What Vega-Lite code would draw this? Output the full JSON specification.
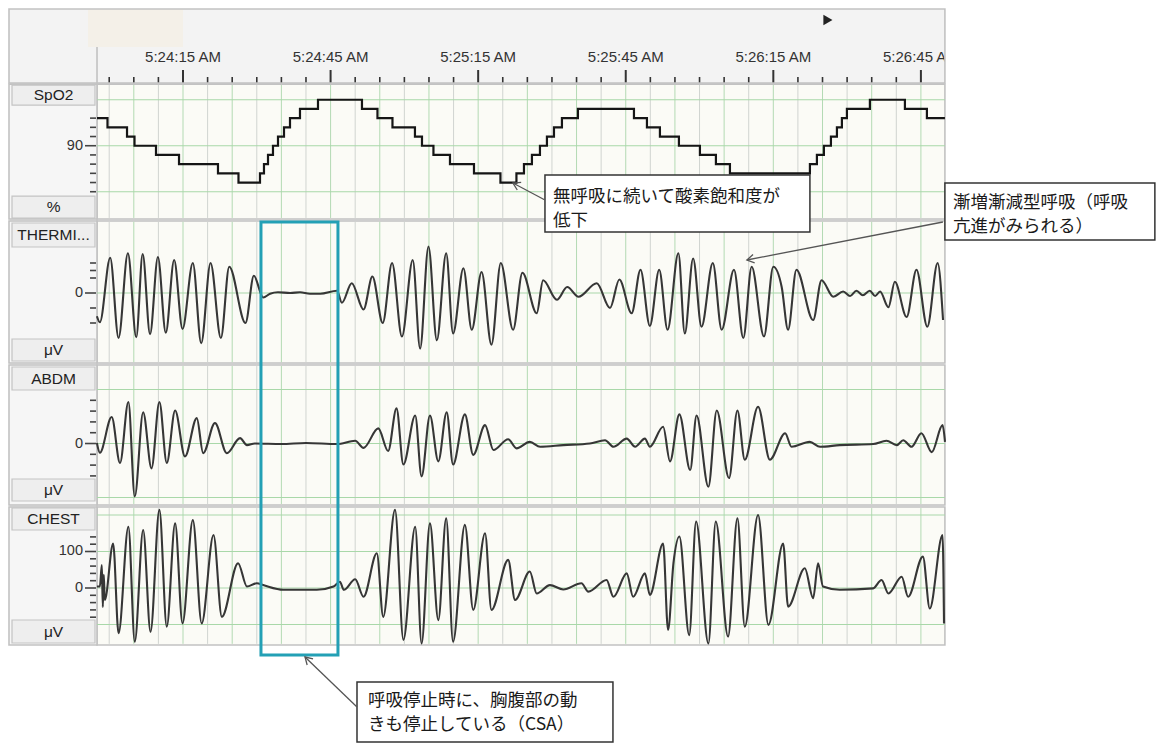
{
  "$schema": "https://vega.github.io/schema/vega-lite/v6.json",
  "width": 1159,
  "height": 743,
  "padding": 0,
  "autosize": {"type": "none"},
  "background": "#ffffff",
  "config": {"view": {"stroke": null, "fill": "#f3f3f3"}},
  "datasets": {
    "timeLabels": [{"t":15,"label":"5:24:15 AM"},{"t":45,"label":"5:24:45 AM"},{"t":75,"label":"5:25:15 AM"},{"t":105,"label":"5:25:45 AM"},{"t":135,"label":"5:26:15 AM"},{"t":165,"label":"5:26:45 AM"}],
    "vgrid": [{"t":0},{"t":5},{"t":10},{"t":15},{"t":20},{"t":25},{"t":30},{"t":35},{"t":40},{"t":45},{"t":50},{"t":55},{"t":60},{"t":65},{"t":70},{"t":75},{"t":80},{"t":85},{"t":90},{"t":95},{"t":100},{"t":105},{"t":110},{"t":115},{"t":120},{"t":125},{"t":130},{"t":135},{"t":140},{"t":145},{"t":150},{"t":155},{"t":160},{"t":165}],
    "spo2": [{"t":-2.48,"v":93},{"t":-0.35,"v":92},{"t":3.62,"v":91},{"t":5.14,"v":90},{"t":9.51,"v":89},{"t":14.19,"v":88},{"t":22.11,"v":87},{"t":26.28,"v":86},{"t":30.65,"v":87},{"t":31.46,"v":88},{"t":32.28,"v":89},{"t":33.29,"v":90},{"t":34.31,"v":91},{"t":35.53,"v":92},{"t":36.75,"v":93},{"t":38.78,"v":94},{"t":42.44,"v":95},{"t":51.38,"v":94},{"t":54.53,"v":93},{"t":57.58,"v":92},{"t":62.15,"v":91},{"t":63.58,"v":90},{"t":65.91,"v":89},{"t":69.27,"v":88},{"t":74.15,"v":87},{"t":79.53,"v":86},{"t":82.78,"v":87},{"t":84.31,"v":88},{"t":85.93,"v":89},{"t":87.56,"v":90},{"t":88.98,"v":91},{"t":90.41,"v":92},{"t":92.03,"v":93},{"t":95.28,"v":94},{"t":106.67,"v":93},{"t":109.31,"v":92},{"t":111.95,"v":91},{"t":115.81,"v":90},{"t":120.08,"v":89},{"t":123.33,"v":88},{"t":126.18,"v":87},{"t":142.44,"v":88},{"t":143.86,"v":89},{"t":145.28,"v":90},{"t":146.71,"v":91},{"t":147.93,"v":92},{"t":148.94,"v":93},{"t":149.96,"v":94},{"t":154.63,"v":95},{"t":161.75,"v":94},{"t":166.22,"v":93},{"t":169.88,"v":93}],
    "thermi": [{"t":-2.5,"v":-31},{"t":-1.9,"v":-39},{"t":0.2,"v":47},{"t":1.9,"v":-60},{"t":3.8,"v":53},{"t":5.5,"v":-59},{"t":6.8,"v":52},{"t":8.3,"v":-55},{"t":9.9,"v":48},{"t":11.5,"v":-53},{"t":13.2,"v":44},{"t":14.9,"v":-48},{"t":17.0,"v":40},{"t":18.7,"v":-67},{"t":20.6,"v":40},{"t":22.7,"v":-60},{"t":24.4,"v":35},{"t":27.7,"v":-40},{"t":29.4,"v":23},{"t":31.3,"v":-6},{"t":32.7,"v":-1},{"t":34.3,"v":1},{"t":36.8,"v":0},{"t":38.8,"v":1},{"t":40.8,"v":-1},{"t":42.9,"v":-1},{"t":46.3,"v":3},{"t":47.3,"v":-13},{"t":49.3,"v":13},{"t":51.7,"v":-22},{"t":53.5,"v":22},{"t":55.6,"v":-40},{"t":57.5,"v":40},{"t":59.5,"v":-58},{"t":61.7,"v":44},{"t":63.2,"v":-74},{"t":64.9,"v":62},{"t":66.6,"v":-63},{"t":68.5,"v":53},{"t":69.9,"v":-54},{"t":72.0,"v":33},{"t":73.7,"v":-49},{"t":75.7,"v":28},{"t":77.7,"v":-69},{"t":79.6,"v":40},{"t":82.1,"v":-49},{"t":84.0,"v":27},{"t":86.9,"v":-27},{"t":88.2,"v":17},{"t":91.0,"v":-9},{"t":93.1,"v":8},{"t":95.4,"v":-5},{"t":99.1,"v":13},{"t":101.8,"v":-20},{"t":103.7,"v":18},{"t":106.2,"v":-27},{"t":108.0,"v":31},{"t":109.9,"v":-44},{"t":111.8,"v":31},{"t":113.5,"v":-49},{"t":115.7,"v":53},{"t":117.0,"v":-54},{"t":118.7,"v":46},{"t":120.4,"v":-45},{"t":122.7,"v":40},{"t":124.5,"v":-49},{"t":127.0,"v":31},{"t":128.9,"v":-60},{"t":130.6,"v":35},{"t":133.1,"v":-58},{"t":135.0,"v":35},{"t":136.7,"v":8},{"t":138.0,"v":-49},{"t":139.7,"v":31},{"t":143.1,"v":-36},{"t":144.8,"v":17},{"t":147.2,"v":-5},{"t":149.2,"v":2},{"t":150.6,"v":-4},{"t":151.9,"v":3},{"t":153.2,"v":-3},{"t":154.6,"v":3},{"t":155.7,"v":-4},{"t":156.7,"v":2},{"t":158.4,"v":-19},{"t":159.7,"v":15},{"t":162.1,"v":-32},{"t":164.1,"v":31},{"t":166.3,"v":-45},{"t":168.4,"v":40},{"t":169.5,"v":-36}],
    "abdm": [{"t":-2.5,"v":1},{"t":-1.9,"v":-17},{"t":0.5,"v":49},{"t":2.2,"v":-36},{"t":3.9,"v":77},{"t":5.2,"v":-98},{"t":6.9,"v":58},{"t":8.6,"v":-46},{"t":10.2,"v":77},{"t":11.7,"v":-36},{"t":13.4,"v":61},{"t":15.4,"v":-24},{"t":17.8,"v":47},{"t":19.1,"v":-18},{"t":21.5,"v":38},{"t":23.9,"v":-18},{"t":26.6,"v":10},{"t":28.0,"v":-3},{"t":29.6,"v":0},{"t":35.0,"v":-1},{"t":40.0,"v":1},{"t":46.3,"v":-1},{"t":50.0,"v":5},{"t":51.7,"v":-8},{"t":54.7,"v":28},{"t":56.7,"v":-14},{"t":58.4,"v":65},{"t":59.8,"v":-39},{"t":62.2,"v":52},{"t":63.5,"v":-61},{"t":65.2,"v":52},{"t":66.9,"v":-33},{"t":68.6,"v":58},{"t":69.9,"v":-39},{"t":72.3,"v":54},{"t":74.0,"v":-21},{"t":76.4,"v":34},{"t":78.1,"v":-12},{"t":81.1,"v":8},{"t":82.8,"v":-9},{"t":85.5,"v":3},{"t":87.6,"v":-6},{"t":92.3,"v":-3},{"t":97.7,"v":0},{"t":100.8,"v":6},{"t":102.5,"v":-6},{"t":105.2,"v":9},{"t":106.9,"v":-6},{"t":108.9,"v":9},{"t":109.9,"v":-6},{"t":112.6,"v":31},{"t":114.0,"v":-33},{"t":115.9,"v":54},{"t":118.1,"v":-49},{"t":119.4,"v":52},{"t":121.8,"v":-80},{"t":123.5,"v":61},{"t":126.0,"v":-64},{"t":127.7,"v":61},{"t":129.2,"v":-30},{"t":131.9,"v":68},{"t":134.3,"v":-30},{"t":137.4,"v":19},{"t":138.7,"v":-6},{"t":142.4,"v":3},{"t":144.5,"v":-6},{"t":148.5,"v":-3},{"t":155.3,"v":-1},{"t":158.0,"v":5},{"t":160.1,"v":-3},{"t":161.4,"v":6},{"t":163.1,"v":-6},{"t":165.1,"v":19},{"t":167.2,"v":-16},{"t":169.4,"v":34},{"t":169.9,"v":3}],
    "chest": [{"t":-2.5,"v":4},{"t":-1.9,"v":4},{"t":-1.5,"v":63},{"t":-1.3,"v":-52},{"t":-1.1,"v":36},{"t":-0.9,"v":-33},{"t":0.8,"v":122},{"t":1.9,"v":-124},{"t":3.9,"v":168},{"t":5.2,"v":-147},{"t":6.9,"v":159},{"t":8.4,"v":-120},{"t":10.2,"v":214},{"t":11.7,"v":-106},{"t":13.4,"v":177},{"t":14.9,"v":-97},{"t":17.0,"v":186},{"t":18.8,"v":-97},{"t":21.2,"v":145},{"t":22.9,"v":-79},{"t":26.2,"v":68},{"t":28.0,"v":4},{"t":30.0,"v":13},{"t":31.3,"v":8},{"t":35.4,"v":-5},{"t":42.2,"v":-5},{"t":45.6,"v":4},{"t":46.9,"v":17},{"t":47.7,"v":-5},{"t":50.0,"v":24},{"t":51.7,"v":-24},{"t":54.4,"v":95},{"t":55.7,"v":-79},{"t":58.1,"v":214},{"t":59.8,"v":-142},{"t":62.2,"v":168},{"t":63.5,"v":-152},{"t":65.2,"v":177},{"t":66.9,"v":-88},{"t":68.5,"v":191},{"t":69.9,"v":-147},{"t":72.3,"v":173},{"t":74.0,"v":-60},{"t":76.4,"v":150},{"t":77.7,"v":-60},{"t":81.1,"v":77},{"t":82.5,"v":-33},{"t":85.5,"v":45},{"t":86.9,"v":-15},{"t":89.6,"v":8},{"t":92.3,"v":-4},{"t":96.0,"v":13},{"t":97.4,"v":-10},{"t":101.1,"v":22},{"t":102.5,"v":-24},{"t":105.2,"v":40},{"t":106.5,"v":-24},{"t":108.9,"v":40},{"t":109.9,"v":-19},{"t":112.6,"v":122},{"t":113.6,"v":-115},{"t":114.7,"v":68},{"t":115.9,"v":141},{"t":117.9,"v":-129},{"t":119.3,"v":182},{"t":121.8,"v":-152},{"t":123.3,"v":182},{"t":125.8,"v":-133},{"t":127.7,"v":191},{"t":129.2,"v":-106},{"t":131.9,"v":200},{"t":134.0,"v":-101},{"t":137.0,"v":122},{"t":138.0,"v":-51},{"t":141.4,"v":54},{"t":143.1,"v":-28},{"t":144.1,"v":68},{"t":145.1,"v":4},{"t":148.5,"v":-5},{"t":155.3,"v":-1},{"t":157.0,"v":22},{"t":158.4,"v":-15},{"t":161.1,"v":31},{"t":162.4,"v":-24},{"t":165.4,"v":86},{"t":166.8,"v":-56},{"t":169.4,"v":145},{"t":169.7,"v":-97}]
  },
  "resolve": {"scale": {"y": "independent"}},
  "layer": [
    {
      "layer": [
        {"data": {"name": "timeLabels"}, "mark": {"type": "rule", "color": "#333333", "strokeWidth": 2}, "encoding": {"x": {"field": "t", "type": "quantitative", "scale": {"domain": [-22.2, 213.4], "nice": false, "zero": false}, "axis": null}, "y": {"datum": 98.23, "type": "quantitative", "scale": {"domain": [25.08, 105.84], "nice": false, "zero": false}, "axis": null}, "y2": {"datum": 96.82}}},
        {"data": {"name": "vgrid"}, "transform": [{"filter": "datum.t % 30 != 15"}], "mark": {"type": "rule", "color": "#333333", "strokeWidth": 1.6}, "encoding": {"x": {"field": "t", "type": "quantitative", "scale": {"domain": [-22.2, 213.4], "nice": false, "zero": false}, "axis": null}, "y": {"datum": 97.47, "type": "quantitative", "scale": {"domain": [25.08, 105.84], "nice": false, "zero": false}, "axis": null}, "y2": {"datum": 96.82}}},
        {"data": {"name": "timeLabels"}, "mark": {"type": "text", "font": "Liberation Sans", "fontSize": 15, "color": "#333333", "align": "center", "baseline": "middle"}, "encoding": {"x": {"field": "t", "type": "quantitative", "scale": {"domain": [-22.2, 213.4], "nice": false, "zero": false}, "axis": null}, "y": {"datum": 99.64, "type": "quantitative", "scale": {"domain": [25.08, 105.84], "nice": false, "zero": false}, "axis": null}, "text": {"field": "label"}}},
        {"data": {"values": [{}]}, "mark": {"type": "rect", "fill": "#ffffff"}, "encoding": {"x": {"datum": 169.88, "type": "quantitative", "scale": {"domain": [-22.2, 213.4], "nice": false, "zero": false}, "axis": null}, "x2": {"datum": 213.4}, "y": {"datum": 25.08, "type": "quantitative", "scale": {"domain": [25.08, 105.84], "nice": false, "zero": false}, "axis": null}, "y2": {"datum": 105.84}}},
        {"data": {"values": [{}]}, "mark": {"type": "rect", "fill": "#ffffff"}, "encoding": {"x": {"datum": -22.2, "type": "quantitative", "scale": {"domain": [-22.2, 213.4], "nice": false, "zero": false}, "axis": null}, "x2": {"datum": 213.4}, "y": {"datum": 25.08, "type": "quantitative", "scale": {"domain": [25.08, 105.84], "nice": false, "zero": false}, "axis": null}, "y2": {"datum": 35.73}}},
        {"data": {"values": [{}]}, "mark": {"type": "rect", "fill": "#ffffff"}, "encoding": {"x": {"datum": -22.2, "type": "quantitative", "scale": {"domain": [-22.2, 213.4], "nice": false, "zero": false}, "axis": null}, "x2": {"datum": -20.37}, "y": {"datum": 25.08, "type": "quantitative", "scale": {"domain": [25.08, 105.84], "nice": false, "zero": false}, "axis": null}, "y2": {"datum": 105.84}}},
        {"data": {"values": [{}]}, "mark": {"type": "rect", "fill": "#ffffff"}, "encoding": {"x": {"datum": -22.2, "type": "quantitative", "scale": {"domain": [-22.2, 213.4], "nice": false, "zero": false}, "axis": null}, "x2": {"datum": 213.4}, "y": {"datum": 104.86, "type": "quantitative", "scale": {"domain": [25.08, 105.84], "nice": false, "zero": false}, "axis": null}, "y2": {"datum": 105.84}}},
        {"data": {"values": [{}]}, "mark": {"type": "rect", "fill": "#fbfbf6", "stroke": "#c2c2c2", "strokeWidth": 1.6}, "encoding": {"x": {"datum": -2.48, "type": "quantitative", "scale": {"domain": [-22.2, 213.4], "nice": false, "zero": false}, "axis": null}, "x2": {"datum": 169.88}, "y": {"datum": 82.03, "type": "quantitative", "scale": {"domain": [25.08, 105.84], "nice": false, "zero": false}, "axis": null}, "y2": {"datum": 96.7}}},
        {"data": {"values": [{}]}, "mark": {"type": "rect", "fill": "#f6f6f6", "stroke": "#c2c2c2", "strokeWidth": 1.6}, "encoding": {"x": {"datum": -20.37, "type": "quantitative", "scale": {"domain": [-22.2, 213.4], "nice": false, "zero": false}, "axis": null}, "x2": {"datum": -2.48}, "y": {"datum": 82.03, "type": "quantitative", "scale": {"domain": [25.08, 105.84], "nice": false, "zero": false}, "axis": null}, "y2": {"datum": 96.7}}},
        {"data": {"name": "vgrid"}, "mark": {"type": "rule", "strokeWidth": 1}, "encoding": {"x": {"field": "t", "type": "quantitative", "scale": {"domain": [-22.2, 213.4], "nice": false, "zero": false}, "axis": null}, "y": {"datum": 82.15, "type": "quantitative", "scale": {"domain": [25.08, 105.84], "nice": false, "zero": false}, "axis": null}, "y2": {"datum": 96.6}, "color": {"condition": {"test": "datum.t % 10 == 5", "value": "#b3dab3"}, "value": "#d0d4d0"}}},
        {"data": {"values": [{"v": 85}, {"v": 90}, {"v": 95}]}, "mark": {"type": "rule", "color": "#a9d8a9", "strokeWidth": 1.2}, "encoding": {"x": {"datum": -2.48, "type": "quantitative", "scale": {"domain": [-22.2, 213.4], "nice": false, "zero": false}, "axis": null}, "x2": {"datum": 169.88}, "y": {"field": "v", "type": "quantitative", "scale": {"domain": [25.08, 105.84], "nice": false, "zero": false}, "axis": null}}},
        {"data": {"values": [{}]}, "mark": {"type": "rect", "fill": "#eeeeee", "stroke": "#c4c4c4", "strokeWidth": 1.2}, "encoding": {"x": {"datum": -19.76, "type": "quantitative", "scale": {"domain": [-22.2, 213.4], "nice": false, "zero": false}, "axis": null}, "x2": {"datum": -2.89}, "y": {"datum": 94.42, "type": "quantitative", "scale": {"domain": [25.08, 105.84], "nice": false, "zero": false}, "axis": null}, "y2": {"datum": 96.59}}},
        {"data": {"values": [{}]}, "mark": {"type": "rect", "fill": "#eeeeee", "stroke": "#c4c4c4", "strokeWidth": 1.2}, "encoding": {"x": {"datum": -19.76, "type": "quantitative", "scale": {"domain": [-22.2, 213.4], "nice": false, "zero": false}, "axis": null}, "x2": {"datum": -2.89}, "y": {"datum": 82.14, "type": "quantitative", "scale": {"domain": [25.08, 105.84], "nice": false, "zero": false}, "axis": null}, "y2": {"datum": 84.53}}},
        {"data": {"values": [{}]}, "mark": {"type": "text", "text": "SpO2", "font": "Liberation Sans", "fontSize": 15.5, "color": "#222222", "align": "center", "baseline": "middle"}, "encoding": {"x": {"datum": -11.32, "type": "quantitative", "scale": {"domain": [-22.2, 213.4], "nice": false, "zero": false}, "axis": null}, "y": {"datum": 95.51, "type": "quantitative", "scale": {"domain": [25.08, 105.84], "nice": false, "zero": false}, "axis": null}}},
        {"data": {"values": [{}]}, "mark": {"type": "text", "text": "%", "font": "Liberation Sans", "fontSize": 15.5, "color": "#222222", "align": "center", "baseline": "middle"}, "encoding": {"x": {"datum": -11.32, "type": "quantitative", "scale": {"domain": [-22.2, 213.4], "nice": false, "zero": false}, "axis": null}, "y": {"datum": 83.34, "type": "quantitative", "scale": {"domain": [25.08, 105.84], "nice": false, "zero": false}, "axis": null}}},
        {"data": {"values": [{"v": 85}, {"v": 86}, {"v": 87}, {"v": 88}, {"v": 89}, {"v": 91}, {"v": 92}, {"v": 93}]}, "mark": {"type": "rule", "color": "#444444", "strokeWidth": 1.6}, "encoding": {"x": {"datum": -3.9, "type": "quantitative", "scale": {"domain": [-22.2, 213.4], "nice": false, "zero": false}, "axis": null}, "x2": {"datum": -2.68}, "y": {"field": "v", "type": "quantitative", "scale": {"domain": [25.08, 105.84], "nice": false, "zero": false}, "axis": null}}},
        {"data": {"values": [{"v": 90, "label": "90"}]}, "mark": {"type": "rule", "color": "#444444", "strokeWidth": 1.6}, "encoding": {"x": {"datum": -4.92, "type": "quantitative", "scale": {"domain": [-22.2, 213.4], "nice": false, "zero": false}, "axis": null}, "x2": {"datum": -2.68}, "y": {"field": "v", "type": "quantitative", "scale": {"domain": [25.08, 105.84], "nice": false, "zero": false}, "axis": null}}},
        {"data": {"values": [{"v": 90, "label": "90"}]}, "mark": {"type": "text", "font": "Liberation Sans", "fontSize": 14.5, "color": "#333333", "align": "right", "baseline": "middle"}, "encoding": {"x": {"datum": -5.33, "type": "quantitative", "scale": {"domain": [-22.2, 213.4], "nice": false, "zero": false}, "axis": null}, "y": {"field": "v", "type": "quantitative", "scale": {"domain": [25.08, 105.84], "nice": false, "zero": false}, "axis": null}, "text": {"field": "label"}}},
        {"data": {"name": "spo2"}, "mark": {"type": "line", "interpolate": "step-after", "color": "#151515", "strokeWidth": 2.2}, "encoding": {"x": {"field": "t", "type": "quantitative", "scale": {"domain": [-22.2, 213.4], "nice": false, "zero": false}, "axis": null}, "y": {"field": "v", "type": "quantitative", "scale": {"domain": [25.08, 105.84], "nice": false, "zero": false}, "axis": null}}}
      ]
    },
    {
      "layer": [
        {"data": {"values": [{}]}, "mark": {"type": "rect", "fill": "#fbfbf6", "stroke": "#c2c2c2", "strokeWidth": 1.6}, "encoding": {"x": {"datum": -2.48, "type": "quantitative", "scale": {"domain": [-22.2, 213.4], "nice": false, "zero": false}, "axis": null}, "x2": {"datum": 169.88}, "y": {"datum": -93.33, "type": "quantitative", "scale": {"domain": [-600, 390.67], "nice": false, "zero": false}, "axis": null}, "y2": {"datum": 96}}},
        {"data": {"values": [{}]}, "mark": {"type": "rect", "fill": "#f6f6f6", "stroke": "#c2c2c2", "strokeWidth": 1.6}, "encoding": {"x": {"datum": -20.37, "type": "quantitative", "scale": {"domain": [-22.2, 213.4], "nice": false, "zero": false}, "axis": null}, "x2": {"datum": -2.48}, "y": {"datum": -93.33, "type": "quantitative", "scale": {"domain": [-600, 390.67], "nice": false, "zero": false}, "axis": null}, "y2": {"datum": 96}}},
        {"data": {"name": "vgrid"}, "mark": {"type": "rule", "strokeWidth": 1}, "encoding": {"x": {"field": "t", "type": "quantitative", "scale": {"domain": [-22.2, 213.4], "nice": false, "zero": false}, "axis": null}, "y": {"datum": -92.3, "type": "quantitative", "scale": {"domain": [-600, 390.67], "nice": false, "zero": false}, "axis": null}, "y2": {"datum": 95}, "color": {"condition": {"test": "datum.t % 10 == 5", "value": "#b3dab3"}, "value": "#d0d4d0"}}},
        {"data": {"values": [{"v": 0}]}, "mark": {"type": "rule", "color": "#a9d8a9", "strokeWidth": 1.2}, "encoding": {"x": {"datum": -2.48, "type": "quantitative", "scale": {"domain": [-22.2, 213.4], "nice": false, "zero": false}, "axis": null}, "x2": {"datum": 169.88}, "y": {"field": "v", "type": "quantitative", "scale": {"domain": [-600, 390.67], "nice": false, "zero": false}, "axis": null}}},
        {"data": {"values": [{}]}, "mark": {"type": "rect", "fill": "#eeeeee", "stroke": "#c4c4c4", "strokeWidth": 1.2}, "encoding": {"x": {"datum": -19.76, "type": "quantitative", "scale": {"domain": [-22.2, 213.4], "nice": false, "zero": false}, "axis": null}, "x2": {"datum": -2.89}, "y": {"datum": 61.33, "type": "quantitative", "scale": {"domain": [-600, 390.67], "nice": false, "zero": false}, "axis": null}, "y2": {"datum": 93.33}}},
        {"data": {"values": [{}]}, "mark": {"type": "rect", "fill": "#eeeeee", "stroke": "#c4c4c4", "strokeWidth": 1.2}, "encoding": {"x": {"datum": -19.76, "type": "quantitative", "scale": {"domain": [-22.2, 213.4], "nice": false, "zero": false}, "axis": null}, "x2": {"datum": -2.89}, "y": {"datum": -90.67, "type": "quantitative", "scale": {"domain": [-600, 390.67], "nice": false, "zero": false}, "axis": null}, "y2": {"datum": -61.33}}},
        {"data": {"values": [{}]}, "mark": {"type": "text", "text": "THERMI...", "font": "Liberation Sans", "fontSize": 15.5, "color": "#222222", "align": "center", "baseline": "middle"}, "encoding": {"x": {"datum": -11.32, "type": "quantitative", "scale": {"domain": [-22.2, 213.4], "nice": false, "zero": false}, "axis": null}, "y": {"datum": 77.33, "type": "quantitative", "scale": {"domain": [-600, 390.67], "nice": false, "zero": false}, "axis": null}}},
        {"data": {"values": [{}]}, "mark": {"type": "text", "text": "μV", "font": "Liberation Sans", "fontSize": 15.5, "color": "#222222", "align": "center", "baseline": "middle"}, "encoding": {"x": {"datum": -11.32, "type": "quantitative", "scale": {"domain": [-22.2, 213.4], "nice": false, "zero": false}, "axis": null}, "y": {"datum": -76, "type": "quantitative", "scale": {"domain": [-600, 390.67], "nice": false, "zero": false}, "axis": null}}},
        {"data": {"values": [{"v": -40}, {"v": -20}, {"v": 20}, {"v": 30}, {"v": 40}]}, "mark": {"type": "rule", "color": "#444444", "strokeWidth": 1.6}, "encoding": {"x": {"datum": -3.9, "type": "quantitative", "scale": {"domain": [-22.2, 213.4], "nice": false, "zero": false}, "axis": null}, "x2": {"datum": -2.68}, "y": {"field": "v", "type": "quantitative", "scale": {"domain": [-600, 390.67], "nice": false, "zero": false}, "axis": null}}},
        {"data": {"values": [{"v": 0, "label": "0"}]}, "mark": {"type": "rule", "color": "#444444", "strokeWidth": 1.6}, "encoding": {"x": {"datum": -4.92, "type": "quantitative", "scale": {"domain": [-22.2, 213.4], "nice": false, "zero": false}, "axis": null}, "x2": {"datum": -2.68}, "y": {"field": "v", "type": "quantitative", "scale": {"domain": [-600, 390.67], "nice": false, "zero": false}, "axis": null}}},
        {"data": {"values": [{"v": 0, "label": "0"}]}, "mark": {"type": "text", "font": "Liberation Sans", "fontSize": 14.5, "color": "#333333", "align": "right", "baseline": "middle"}, "encoding": {"x": {"datum": -5.33, "type": "quantitative", "scale": {"domain": [-22.2, 213.4], "nice": false, "zero": false}, "axis": null}, "y": {"field": "v", "type": "quantitative", "scale": {"domain": [-600, 390.67], "nice": false, "zero": false}, "axis": null}, "text": {"field": "label"}}},
        {"data": {"name": "thermi"}, "mark": {"type": "line", "interpolate": "monotone", "color": "#363636", "strokeWidth": 2.1}, "encoding": {"x": {"field": "t", "type": "quantitative", "scale": {"domain": [-22.2, 213.4], "nice": false, "zero": false}, "axis": null}, "y": {"field": "v", "type": "quantitative", "scale": {"domain": [-600, 390.67], "nice": false, "zero": false}, "axis": null}}}
      ]
    },
    {
      "layer": [
        {"data": {"values": [{}]}, "mark": {"type": "rect", "fill": "#fbfbf6", "stroke": "#c2c2c2", "strokeWidth": 1.6}, "encoding": {"x": {"datum": -2.48, "type": "quantitative", "scale": {"domain": [-22.2, 213.4], "nice": false, "zero": false}, "axis": null}, "x2": {"datum": 169.88}, "y": {"datum": -113.89, "type": "quantitative", "scale": {"domain": [-554.6, 821.3], "nice": false, "zero": false}, "axis": null}, "y2": {"datum": 145.37}}},
        {"data": {"values": [{}]}, "mark": {"type": "rect", "fill": "#f6f6f6", "stroke": "#c2c2c2", "strokeWidth": 1.6}, "encoding": {"x": {"datum": -20.37, "type": "quantitative", "scale": {"domain": [-22.2, 213.4], "nice": false, "zero": false}, "axis": null}, "x2": {"datum": -2.48}, "y": {"datum": -113.89, "type": "quantitative", "scale": {"domain": [-554.6, 821.3], "nice": false, "zero": false}, "axis": null}, "y2": {"datum": 145.37}}},
        {"data": {"name": "vgrid"}, "mark": {"type": "rule", "strokeWidth": 1}, "encoding": {"x": {"field": "t", "type": "quantitative", "scale": {"domain": [-22.2, 213.4], "nice": false, "zero": false}, "axis": null}, "y": {"datum": -112, "type": "quantitative", "scale": {"domain": [-554.6, 821.3], "nice": false, "zero": false}, "axis": null}, "y2": {"datum": 143.5}, "color": {"condition": {"test": "datum.t % 10 == 5", "value": "#b3dab3"}, "value": "#d0d4d0"}}},
        {"data": {"values": [{"v": -100}, {"v": 0}, {"v": 100}]}, "mark": {"type": "rule", "color": "#a9d8a9", "strokeWidth": 1.2}, "encoding": {"x": {"datum": -2.48, "type": "quantitative", "scale": {"domain": [-22.2, 213.4], "nice": false, "zero": false}, "axis": null}, "x2": {"datum": 169.88}, "y": {"field": "v", "type": "quantitative", "scale": {"domain": [-554.6, 821.3], "nice": false, "zero": false}, "axis": null}}},
        {"data": {"values": [{}]}, "mark": {"type": "rect", "fill": "#eeeeee", "stroke": "#c4c4c4", "strokeWidth": 1.2}, "encoding": {"x": {"datum": -19.76, "type": "quantitative", "scale": {"domain": [-22.2, 213.4], "nice": false, "zero": false}, "axis": null}, "x2": {"datum": -2.89}, "y": {"datum": 99.07, "type": "quantitative", "scale": {"domain": [-554.6, 821.3], "nice": false, "zero": false}, "axis": null}, "y2": {"datum": 141.67}}},
        {"data": {"values": [{}]}, "mark": {"type": "rect", "fill": "#eeeeee", "stroke": "#c4c4c4", "strokeWidth": 1.2}, "encoding": {"x": {"datum": -19.76, "type": "quantitative", "scale": {"domain": [-22.2, 213.4], "nice": false, "zero": false}, "axis": null}, "x2": {"datum": -2.89}, "y": {"datum": -106.48, "type": "quantitative", "scale": {"domain": [-554.6, 821.3], "nice": false, "zero": false}, "axis": null}, "y2": {"datum": -65.74}}},
        {"data": {"values": [{}]}, "mark": {"type": "text", "text": "ABDM", "font": "Liberation Sans", "fontSize": 15.5, "color": "#222222", "align": "center", "baseline": "middle"}, "encoding": {"x": {"datum": -11.32, "type": "quantitative", "scale": {"domain": [-22.2, 213.4], "nice": false, "zero": false}, "axis": null}, "y": {"datum": 120.37, "type": "quantitative", "scale": {"domain": [-554.6, 821.3], "nice": false, "zero": false}, "axis": null}}},
        {"data": {"values": [{}]}, "mark": {"type": "text", "text": "μV", "font": "Liberation Sans", "fontSize": 15.5, "color": "#222222", "align": "center", "baseline": "middle"}, "encoding": {"x": {"datum": -11.32, "type": "quantitative", "scale": {"domain": [-22.2, 213.4], "nice": false, "zero": false}, "axis": null}, "y": {"datum": -86.11, "type": "quantitative", "scale": {"domain": [-554.6, 821.3], "nice": false, "zero": false}, "axis": null}}},
        {"data": {"values": [{"v": -60}, {"v": -40}, {"v": -20}, {"v": 20}, {"v": 40}, {"v": 60}, {"v": 80}]}, "mark": {"type": "rule", "color": "#444444", "strokeWidth": 1.6}, "encoding": {"x": {"datum": -3.9, "type": "quantitative", "scale": {"domain": [-22.2, 213.4], "nice": false, "zero": false}, "axis": null}, "x2": {"datum": -2.68}, "y": {"field": "v", "type": "quantitative", "scale": {"domain": [-554.6, 821.3], "nice": false, "zero": false}, "axis": null}}},
        {"data": {"values": [{"v": 0, "label": "0"}]}, "mark": {"type": "rule", "color": "#444444", "strokeWidth": 1.6}, "encoding": {"x": {"datum": -4.92, "type": "quantitative", "scale": {"domain": [-22.2, 213.4], "nice": false, "zero": false}, "axis": null}, "x2": {"datum": -2.68}, "y": {"field": "v", "type": "quantitative", "scale": {"domain": [-554.6, 821.3], "nice": false, "zero": false}, "axis": null}}},
        {"data": {"values": [{"v": 0, "label": "0"}]}, "mark": {"type": "text", "font": "Liberation Sans", "fontSize": 14.5, "color": "#333333", "align": "right", "baseline": "middle"}, "encoding": {"x": {"datum": -5.33, "type": "quantitative", "scale": {"domain": [-22.2, 213.4], "nice": false, "zero": false}, "axis": null}, "y": {"field": "v", "type": "quantitative", "scale": {"domain": [-554.6, 821.3], "nice": false, "zero": false}, "axis": null}, "text": {"field": "label"}}},
        {"data": {"name": "abdm"}, "mark": {"type": "line", "interpolate": "monotone", "color": "#363636", "strokeWidth": 2.1}, "encoding": {"x": {"field": "t", "type": "quantitative", "scale": {"domain": [-22.2, 213.4], "nice": false, "zero": false}, "axis": null}, "y": {"field": "v", "type": "quantitative", "scale": {"domain": [-554.6, 821.3], "nice": false, "zero": false}, "axis": null}}}
      ]
    },
    {
      "layer": [
        {"data": {"values": [{}]}, "mark": {"type": "rect", "fill": "#fbfbf6", "stroke": "#c2c2c2", "strokeWidth": 1.6}, "encoding": {"x": {"datum": -2.48, "type": "quantitative", "scale": {"domain": [-22.2, 213.4], "nice": false, "zero": false}, "axis": null}, "x2": {"datum": 169.88}, "y": {"datum": -156.16, "type": "quantitative", "scale": {"domain": [-424.66, 1610.96], "nice": false, "zero": false}, "axis": null}, "y2": {"datum": 221.92}}},
        {"data": {"values": [{}]}, "mark": {"type": "rect", "fill": "#f6f6f6", "stroke": "#c2c2c2", "strokeWidth": 1.6}, "encoding": {"x": {"datum": -20.37, "type": "quantitative", "scale": {"domain": [-22.2, 213.4], "nice": false, "zero": false}, "axis": null}, "x2": {"datum": -2.48}, "y": {"datum": -156.16, "type": "quantitative", "scale": {"domain": [-424.66, 1610.96], "nice": false, "zero": false}, "axis": null}, "y2": {"datum": 221.92}}},
        {"data": {"name": "vgrid"}, "mark": {"type": "rule", "strokeWidth": 1}, "encoding": {"x": {"field": "t", "type": "quantitative", "scale": {"domain": [-22.2, 213.4], "nice": false, "zero": false}, "axis": null}, "y": {"datum": -153, "type": "quantitative", "scale": {"domain": [-424.66, 1610.96], "nice": false, "zero": false}, "axis": null}, "y2": {"datum": 219}, "color": {"condition": {"test": "datum.t % 10 == 5", "value": "#b3dab3"}, "value": "#d0d4d0"}}},
        {"data": {"values": [{"v": -100}, {"v": 0}, {"v": 100}, {"v": 200}]}, "mark": {"type": "rule", "color": "#a9d8a9", "strokeWidth": 1.2}, "encoding": {"x": {"datum": -2.48, "type": "quantitative", "scale": {"domain": [-22.2, 213.4], "nice": false, "zero": false}, "axis": null}, "x2": {"datum": 169.88}, "y": {"field": "v", "type": "quantitative", "scale": {"domain": [-424.66, 1610.96], "nice": false, "zero": false}, "axis": null}}},
        {"data": {"values": [{}]}, "mark": {"type": "rect", "fill": "#eeeeee", "stroke": "#c4c4c4", "strokeWidth": 1.2}, "encoding": {"x": {"datum": -19.76, "type": "quantitative", "scale": {"domain": [-22.2, 213.4], "nice": false, "zero": false}, "axis": null}, "x2": {"datum": -2.89}, "y": {"datum": 158.9, "type": "quantitative", "scale": {"domain": [-424.66, 1610.96], "nice": false, "zero": false}, "axis": null}, "y2": {"datum": 219.18}}},
        {"data": {"values": [{}]}, "mark": {"type": "rect", "fill": "#eeeeee", "stroke": "#c4c4c4", "strokeWidth": 1.2}, "encoding": {"x": {"datum": -19.76, "type": "quantitative", "scale": {"domain": [-22.2, 213.4], "nice": false, "zero": false}, "axis": null}, "x2": {"datum": -2.89}, "y": {"datum": -150.68, "type": "quantitative", "scale": {"domain": [-424.66, 1610.96], "nice": false, "zero": false}, "axis": null}, "y2": {"datum": -87.67}}},
        {"data": {"values": [{}]}, "mark": {"type": "text", "text": "CHEST", "font": "Liberation Sans", "fontSize": 15.5, "color": "#222222", "align": "center", "baseline": "middle"}, "encoding": {"x": {"datum": -11.32, "type": "quantitative", "scale": {"domain": [-22.2, 213.4], "nice": false, "zero": false}, "axis": null}, "y": {"datum": 189.04, "type": "quantitative", "scale": {"domain": [-424.66, 1610.96], "nice": false, "zero": false}, "axis": null}}},
        {"data": {"values": [{}]}, "mark": {"type": "text", "text": "μV", "font": "Liberation Sans", "fontSize": 15.5, "color": "#222222", "align": "center", "baseline": "middle"}, "encoding": {"x": {"datum": -11.32, "type": "quantitative", "scale": {"domain": [-22.2, 213.4], "nice": false, "zero": false}, "axis": null}, "y": {"datum": -119.18, "type": "quantitative", "scale": {"domain": [-424.66, 1610.96], "nice": false, "zero": false}, "axis": null}}},
        {"data": {"values": [{"v": -80}, {"v": -60}, {"v": -40}, {"v": -20}, {"v": 20}, {"v": 40}, {"v": 60}, {"v": 80}, {"v": 120}, {"v": 140}]}, "mark": {"type": "rule", "color": "#444444", "strokeWidth": 1.6}, "encoding": {"x": {"datum": -3.9, "type": "quantitative", "scale": {"domain": [-22.2, 213.4], "nice": false, "zero": false}, "axis": null}, "x2": {"datum": -2.68}, "y": {"field": "v", "type": "quantitative", "scale": {"domain": [-424.66, 1610.96], "nice": false, "zero": false}, "axis": null}}},
        {"data": {"values": [{"v": 0, "label": "0"}, {"v": 100, "label": "100"}]}, "mark": {"type": "rule", "color": "#444444", "strokeWidth": 1.6}, "encoding": {"x": {"datum": -4.92, "type": "quantitative", "scale": {"domain": [-22.2, 213.4], "nice": false, "zero": false}, "axis": null}, "x2": {"datum": -2.68}, "y": {"field": "v", "type": "quantitative", "scale": {"domain": [-424.66, 1610.96], "nice": false, "zero": false}, "axis": null}}},
        {"data": {"values": [{"v": 0, "label": "0"}, {"v": 100, "label": "100"}]}, "mark": {"type": "text", "font": "Liberation Sans", "fontSize": 14.5, "color": "#333333", "align": "right", "baseline": "middle"}, "encoding": {"x": {"datum": -5.33, "type": "quantitative", "scale": {"domain": [-22.2, 213.4], "nice": false, "zero": false}, "axis": null}, "y": {"field": "v", "type": "quantitative", "scale": {"domain": [-424.66, 1610.96], "nice": false, "zero": false}, "axis": null}, "text": {"field": "label"}}},
        {"data": {"name": "chest"}, "mark": {"type": "line", "interpolate": "monotone", "color": "#363636", "strokeWidth": 2.1}, "encoding": {"x": {"field": "t", "type": "quantitative", "scale": {"domain": [-22.2, 213.4], "nice": false, "zero": false}, "axis": null}, "y": {"field": "v", "type": "quantitative", "scale": {"domain": [-424.66, 1610.96], "nice": false, "zero": false}, "axis": null}}}
      ]
    },
    {
      "layer": [
        {"data": {"values": [{}]}, "mark": {"type": "rect", "fill": "#f4f0e8"}, "encoding": {"x": {"datum": -4.31, "type": "quantitative", "scale": {"domain": [-22.2, 213.4], "nice": false, "zero": false}, "axis": null}, "x2": {"datum": 15}, "y": {"datum": 328, "type": "quantitative", "scale": {"domain": [-600, 390.67], "nice": false, "zero": false}, "axis": null}, "y2": {"datum": 378.67}}},
        {"data": {"values": [{}]}, "mark": {"type": "rect", "fillOpacity": 0, "stroke": "#c2c2c2", "strokeWidth": 1.6}, "encoding": {"x": {"datum": -20.37, "type": "quantitative", "scale": {"domain": [-22.2, 213.4], "nice": false, "zero": false}, "axis": null}, "x2": {"datum": 169.88}, "y": {"datum": 280, "type": "quantitative", "scale": {"domain": [-600, 390.67], "nice": false, "zero": false}, "axis": null}, "y2": {"datum": 378.67}}},
        {"data": {"values": [{}]}, "mark": {"type": "rule", "color": "#c2c2c2", "strokeWidth": 1.6}, "encoding": {"x": {"datum": -2.48, "type": "quantitative", "scale": {"domain": [-22.2, 213.4], "nice": false, "zero": false}, "axis": null}, "y": {"datum": 280, "type": "quantitative", "scale": {"domain": [-600, 390.67], "nice": false, "zero": false}, "axis": null}, "y2": {"datum": 328}}},
        {"data": {"values": [{}]}, "mark": {"type": "point", "shape": "triangle-right", "filled": true, "color": "#222222", "size": 110, "opacity": 1}, "encoding": {"x": {"datum": 146.1, "type": "quantitative", "scale": {"domain": [-22.2, 213.4], "nice": false, "zero": false}, "axis": null}, "y": {"datum": 364, "type": "quantitative", "scale": {"domain": [-600, 390.67], "nice": false, "zero": false}, "axis": null}}},
        {"data": {"values": [{}]}, "mark": {"type": "rect", "fillOpacity": 0, "stroke": "#23a0b5", "strokeWidth": 3}, "encoding": {"x": {"datum": 30.85, "type": "quantitative", "scale": {"domain": [-22.2, 213.4], "nice": false, "zero": false}, "axis": null}, "x2": {"datum": 46.5}, "y": {"datum": -482.7, "type": "quantitative", "scale": {"domain": [-600, 390.67], "nice": false, "zero": false}, "axis": null}, "y2": {"datum": 94.7}}},
        {"data": {"values": [{}]}, "mark": {"type": "rect", "fill": "#ffffff", "stroke": "#333333", "strokeWidth": 1.5}, "encoding": {"x": {"datum": 88.58, "type": "quantitative", "scale": {"domain": [-22.2, 213.4], "nice": false, "zero": false}, "axis": null}, "x2": {"datum": 142.44}, "y": {"datum": 81.33, "type": "quantitative", "scale": {"domain": [-600, 390.67], "nice": false, "zero": false}, "axis": null}, "y2": {"datum": 157.33}}},
        {"data": {"values": [{}]}, "mark": {"type": "rect", "fill": "#ffffff", "stroke": "#333333", "strokeWidth": 1.5}, "encoding": {"x": {"datum": 169.88, "type": "quantitative", "scale": {"domain": [-22.2, 213.4], "nice": false, "zero": false}, "axis": null}, "x2": {"datum": 212.56}, "y": {"datum": 70.67, "type": "quantitative", "scale": {"domain": [-600, 390.67], "nice": false, "zero": false}, "axis": null}, "y2": {"datum": 146.67}}},
        {"data": {"values": [{}]}, "mark": {"type": "rect", "fill": "#ffffff", "stroke": "#333333", "strokeWidth": 1.5}, "encoding": {"x": {"datum": 50.37, "type": "quantitative", "scale": {"domain": [-22.2, 213.4], "nice": false, "zero": false}, "axis": null}, "x2": {"datum": 102.4}, "y": {"datum": -598.67, "type": "quantitative", "scale": {"domain": [-600, 390.67], "nice": false, "zero": false}, "axis": null}, "y2": {"datum": -518.67}}},
        {"data": {"values": [{}]}, "mark": {"type": "rule", "color": "#555555", "strokeWidth": 1.3}, "encoding": {"x": {"datum": 88.58, "type": "quantitative", "scale": {"domain": [-22.2, 213.4], "nice": false, "zero": false}, "axis": null}, "x2": {"datum": 82.07}, "y": {"datum": 124, "type": "quantitative", "scale": {"domain": [-600, 390.67], "nice": false, "zero": false}, "axis": null}, "y2": {"datum": 146.67}}},
        {"data": {"values": [{}]}, "mark": {"type": "rule", "color": "#555555", "strokeWidth": 1.3}, "encoding": {"x": {"datum": 169.47, "type": "quantitative", "scale": {"domain": [-22.2, 213.4], "nice": false, "zero": false}, "axis": null}, "x2": {"datum": 129.63}, "y": {"datum": 94.67, "type": "quantitative", "scale": {"domain": [-600, 390.67], "nice": false, "zero": false}, "axis": null}, "y2": {"datum": 44}}},
        {"data": {"values": [{}]}, "mark": {"type": "rule", "color": "#555555", "strokeWidth": 1.3}, "encoding": {"x": {"datum": 50.37, "type": "quantitative", "scale": {"domain": [-22.2, 213.4], "nice": false, "zero": false}, "axis": null}, "x2": {"datum": 39.8}, "y": {"datum": -552, "type": "quantitative", "scale": {"domain": [-600, 390.67], "nice": false, "zero": false}, "axis": null}, "y2": {"datum": -485.33}}},
        {"data": {"values": [{}]}, "mark": {"type": "point", "shape": "M -1 -0.6 L 0 0 L -1 0.6", "filled": false, "color": "#555555", "strokeWidth": 1.3, "size": 200, "angle": 207.3, "opacity": 1}, "encoding": {"x": {"datum": 82.07, "type": "quantitative", "scale": {"domain": [-22.2, 213.4], "nice": false, "zero": false}, "axis": null}, "y": {"datum": 146.67, "type": "quantitative", "scale": {"domain": [-600, 390.67], "nice": false, "zero": false}, "axis": null}}},
        {"data": {"values": [{}]}, "mark": {"type": "point", "shape": "M -1 -0.6 L 0 0 L -1 0.6", "filled": false, "color": "#555555", "strokeWidth": 1.3, "size": 200, "angle": 169, "opacity": 1}, "encoding": {"x": {"datum": 129.63, "type": "quantitative", "scale": {"domain": [-22.2, 213.4], "nice": false, "zero": false}, "axis": null}, "y": {"datum": 44, "type": "quantitative", "scale": {"domain": [-600, 390.67], "nice": false, "zero": false}, "axis": null}}},
        {"data": {"values": [{}]}, "mark": {"type": "point", "shape": "M -1 -0.6 L 0 0 L -1 0.6", "filled": false, "color": "#555555", "strokeWidth": 1.3, "size": 200, "angle": 223.9, "opacity": 1}, "encoding": {"x": {"datum": 39.8, "type": "quantitative", "scale": {"domain": [-22.2, 213.4], "nice": false, "zero": false}, "axis": null}, "y": {"datum": -485.33, "type": "quantitative", "scale": {"domain": [-600, 390.67], "nice": false, "zero": false}, "axis": null}}},
        {"data": {"values": [{}]}, "mark": {"type": "text", "text": ["無呼吸に続いて酸素飽和度が", "低下"], "font": "Noto Sans CJK JP", "fontSize": 17.5, "lineHeight": 24, "color": "#1a1a1a", "align": "left", "baseline": "middle"}, "encoding": {"x": {"datum": 90.2, "type": "quantitative", "scale": {"domain": [-22.2, 213.4], "nice": false, "zero": false}, "axis": null}, "y": {"datum": 128, "type": "quantitative", "scale": {"domain": [-600, 390.67], "nice": false, "zero": false}, "axis": null}}},
        {"data": {"values": [{}]}, "mark": {"type": "text", "text": ["漸増漸減型呼吸（呼吸", "亢進がみられる）"], "font": "Noto Sans CJK JP", "fontSize": 17.5, "lineHeight": 24, "color": "#1a1a1a", "align": "left", "baseline": "middle"}, "encoding": {"x": {"datum": 171.5, "type": "quantitative", "scale": {"domain": [-22.2, 213.4], "nice": false, "zero": false}, "axis": null}, "y": {"datum": 120, "type": "quantitative", "scale": {"domain": [-600, 390.67], "nice": false, "zero": false}, "axis": null}}},
        {"data": {"values": [{}]}, "mark": {"type": "text", "text": ["呼吸停止時に、胸腹部の動", "きも停止している（CSA）"], "font": "Noto Sans CJK JP", "fontSize": 17.5, "lineHeight": 24, "color": "#1a1a1a", "align": "left", "baseline": "middle"}, "encoding": {"x": {"datum": 52.6, "type": "quantitative", "scale": {"domain": [-22.2, 213.4], "nice": false, "zero": false}, "axis": null}, "y": {"datum": -544, "type": "quantitative", "scale": {"domain": [-600, 390.67], "nice": false, "zero": false}, "axis": null}}}
      ]
    }
  ]
}
